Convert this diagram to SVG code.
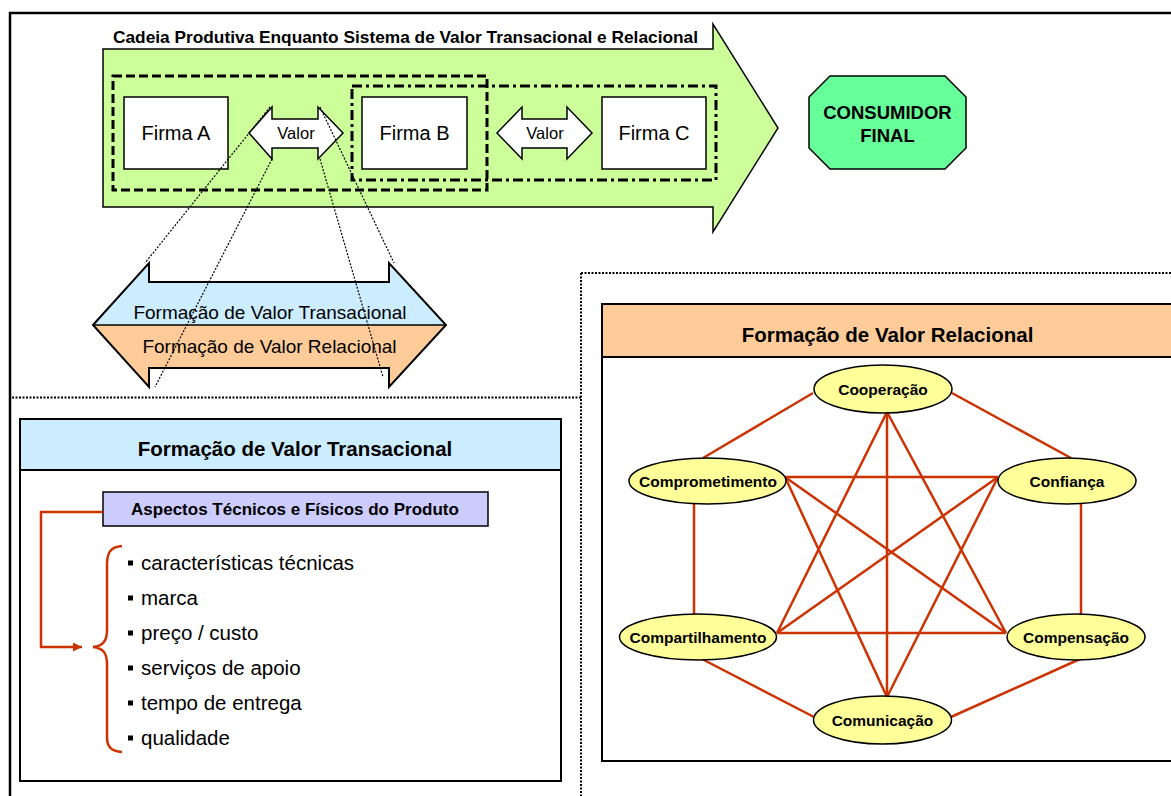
<svg xmlns="http://www.w3.org/2000/svg" width="1171" height="796" viewBox="0 0 1171 796">
  <style>
    text { font-family: "Liberation Sans", Arial, sans-serif; fill: #000; }
    .b { font-weight: bold; }
    .box { fill: #fff; stroke: #000; stroke-width: 1.5; }
    .ell { fill: #FFFF99; stroke: #000; stroke-width: 1.5; }
    .edge { stroke: #CC3300; stroke-width: 2.5; fill: none; }
    .fine { stroke: #000; stroke-width: 1.2; stroke-dasharray: 2 1.5; fill: none; }
    .sep { stroke: #000; stroke-width: 2; stroke-dasharray: 2 1.5; fill: none; }
    .panel { fill: #fff; stroke: #000; stroke-width: 2; }
  </style>
  <defs>
    <marker id="redhead" viewBox="0 0 10 10" refX="10" refY="5" markerWidth="11" markerHeight="9" markerUnits="userSpaceOnUse" orient="auto">
      <path d="M0,0 L10,5 L0,10 z" fill="#CC3300"/>
    </marker>
  </defs>

  <rect width="1171" height="796" fill="#fff"/>

  <!-- outer frame -->
  <rect x="10" y="13" width="1175" height="800" fill="none" stroke="#000" stroke-width="2.5"/>

  <!-- dotted separators -->
  <path class="sep" d="M12,397.5 H581 M581,273 V796 M581,273 H1171"/>

  <!-- value chain arrow -->
  <g id="chain">
    <polygon points="103,49 713,49 713,24 778,128 713,232 713,207 103,207" fill="#CCFF99" stroke="#000" stroke-width="1.5"/>
    <text class="b" x="113" y="43" font-size="17.3" textLength="585" lengthAdjust="spacing">Cadeia Produtiva Enquanto Sistema de Valor Transacional e Relacional</text>
    <rect x="113" y="76" width="374" height="114" fill="none" stroke="#000" stroke-width="3" stroke-dasharray="9 4"/>
    <rect x="352" y="86" width="364" height="94" fill="none" stroke="#000" stroke-width="3" stroke-dasharray="10 4 3 4"/>
  </g>

  <g id="firma-a">
    <rect class="box" x="124" y="97" width="104" height="72"/>
    <text x="176" y="140" font-size="20" text-anchor="middle">Firma A</text>
  </g>
  <g id="firma-b">
    <rect class="box" x="362" y="97" width="105" height="72"/>
    <text x="414.5" y="140" font-size="20" text-anchor="middle">Firma B</text>
  </g>
  <g id="firma-c">
    <rect class="box" x="602" y="97" width="104" height="72"/>
    <text x="654" y="140" font-size="20" text-anchor="middle">Firma C</text>
  </g>

  <g id="valor-ab">
    <polygon class="box" points="249,133 272,107 272,119 318,119 318,107 343,133 318,159 318,148 272,148 272,159"/>
    <text x="296" y="139" font-size="16.5" text-anchor="middle">Valor</text>
  </g>
  <g id="valor-bc">
    <polygon class="box" points="497,133 522,107 522,119 567,119 567,107 592,133 567,159 567,148 522,148 522,159"/>
    <text x="545" y="139" font-size="16.5" text-anchor="middle">Valor</text>
  </g>

  <g id="consumidor">
    <polygon points="830,76 945,76 966,97 966,148 945,169 830,169 809,148 809,97" fill="#66FF99" stroke="#000" stroke-width="1.5"/>
    <text class="b" x="887.5" y="119" font-size="18.5" text-anchor="middle">CONSUMIDOR</text>
    <text class="b" x="887.5" y="142" font-size="18.5" text-anchor="middle">FINAL</text>
  </g>

  <!-- double arrow: transactional / relational value -->
  <g id="formacao-arrow">
    <polygon points="93,325 149,263 149,282 389,282 389,263 446,325" fill="#CCECFF"/>
    <polygon points="93,325 446,325 389,387 389,368 149,368 149,387" fill="#FFCC99"/>
    <polygon points="93,325 149,263 149,282 389,282 389,263 446,325 389,387 389,368 149,368 149,387" fill="none" stroke="#000" stroke-width="2"/>
    <line x1="93" y1="325" x2="446" y2="325" stroke="#000" stroke-width="1.5"/>
    <text x="270" y="319" font-size="19" text-anchor="middle">Formação de Valor Transacional</text>
    <text x="269.5" y="353" font-size="19" text-anchor="middle">Formação de Valor Relacional</text>
  </g>

  <!-- zoom-out guide lines from the value arrow -->
  <g id="guides">
    <line class="fine" x1="270" y1="107" x2="145" y2="263"/>
    <line class="fine" x1="272" y1="159" x2="155" y2="387"/>
    <line class="fine" x1="320" y1="107" x2="394" y2="263"/>
    <line class="fine" x1="320" y1="159" x2="383" y2="377"/>
  </g>

  <!-- transactional value panel -->
  <g id="painel-transacional">
    <rect class="panel" x="20" y="419" width="541" height="362"/>
    <rect x="21" y="420" width="539" height="50" fill="#CCECFF"/>
    <line x1="20" y1="470" x2="561" y2="470" stroke="#000" stroke-width="2"/>
    <text class="b" x="295" y="456" font-size="20.5" text-anchor="middle">Formação de Valor Transacional</text>
  </g>
  <g id="aspectos">
    <rect x="103" y="492" width="385" height="34" fill="#CCCCFF" stroke="#000" stroke-width="1.5"/>
    <text class="b" x="295" y="515" font-size="17" text-anchor="middle">Aspectos Técnicos e Físicos do Produto</text>
  </g>
  <g id="lista">
    <path class="edge" d="M122,546 C110,547 107,553 107,565 L107,630 C107,641 103,646 93,647 C103,648 107,653 107,664 L107,737 C107,747 111,751 122,752"/>
    <g fill="#000">
      <rect x="128" y="560.5" width="5" height="5"/>
      <rect x="128" y="595.5" width="5" height="5"/>
      <rect x="128" y="630.5" width="5" height="5"/>
      <rect x="128" y="665.5" width="5" height="5"/>
      <rect x="128" y="700.5" width="5" height="5"/>
      <rect x="128" y="735.5" width="5" height="5"/>
    </g>
    <text x="141" y="570" font-size="20.5">características técnicas</text>
    <text x="141" y="605" font-size="20.5">marca</text>
    <text x="141" y="640" font-size="20.5">preço / custo</text>
    <text x="141" y="675" font-size="20.5">serviços de apoio</text>
    <text x="141" y="710" font-size="20.5">tempo de entrega</text>
    <text x="141" y="745" font-size="20.5">qualidade</text>
  </g>

  <!-- relational value panel -->
  <g id="painel-relacional">
    <rect class="panel" x="602" y="304" width="580" height="457"/>
    <rect x="603" y="305" width="578" height="52" fill="#FFCC99"/>
    <line x1="602" y1="357" x2="1182" y2="357" stroke="#000" stroke-width="2"/>
    <text class="b" x="887.5" y="342" font-size="20.5" text-anchor="middle">Formação de Valor Relacional</text>
  </g>

  <!-- connectors -->
  <g id="connectors">
    <path class="edge" d="M103,512 H41 V647 H82" marker-end="url(#redhead)"/>
    <line class="edge" x1="813" y1="393" x2="703" y2="458"/>
    <line class="edge" x1="952" y1="393" x2="1071" y2="458"/>
    <line class="edge" x1="887" y1="412" x2="887" y2="697"/>
    <line class="edge" x1="887" y1="412" x2="777" y2="633"/>
    <line class="edge" x1="887" y1="412" x2="1006" y2="633"/>
    <line class="edge" x1="785" y1="477" x2="998" y2="477"/>
    <line class="edge" x1="785" y1="477" x2="1006" y2="633"/>
    <line class="edge" x1="785" y1="477" x2="887" y2="697"/>
    <line class="edge" x1="998" y1="477" x2="777" y2="633"/>
    <line class="edge" x1="998" y1="477" x2="887" y2="697"/>
    <line class="edge" x1="777" y1="633" x2="1006" y2="633"/>
    <line class="edge" x1="694" y1="503" x2="694" y2="614"/>
    <line class="edge" x1="1081" y1="503" x2="1081" y2="614"/>
    <line class="edge" x1="702" y1="659" x2="814" y2="717"/>
    <line class="edge" x1="1080" y1="659" x2="951" y2="717"/>
  </g>

  <g id="cooperacao">
    <ellipse class="ell" cx="883" cy="389" rx="69" ry="24"/>
    <text class="b" x="883" y="395" font-size="15.5" text-anchor="middle">Cooperação</text>
  </g>
  <g id="comprometimento">
    <ellipse class="ell" cx="707.5" cy="481" rx="78.5" ry="23"/>
    <text class="b" x="708" y="487" font-size="15.5" text-anchor="middle">Comprometimento</text>
  </g>
  <g id="confianca">
    <ellipse class="ell" cx="1067" cy="481" rx="69" ry="23"/>
    <text class="b" x="1067" y="487" font-size="15.5" text-anchor="middle">Confiança</text>
  </g>
  <g id="compartilhamento">
    <ellipse class="ell" cx="698" cy="637" rx="78.5" ry="23"/>
    <text class="b" x="698" y="643" font-size="15.5" text-anchor="middle">Compartilhamento</text>
  </g>
  <g id="compensacao">
    <ellipse class="ell" cx="1076" cy="637" rx="69" ry="23"/>
    <text class="b" x="1076" y="643" font-size="15.5" text-anchor="middle">Compensação</text>
  </g>
  <g id="comunicacao">
    <ellipse class="ell" cx="882.5" cy="720" rx="69" ry="24"/>
    <text class="b" x="882.5" y="726" font-size="15.5" text-anchor="middle">Comunicação</text>
  </g>
</svg>
